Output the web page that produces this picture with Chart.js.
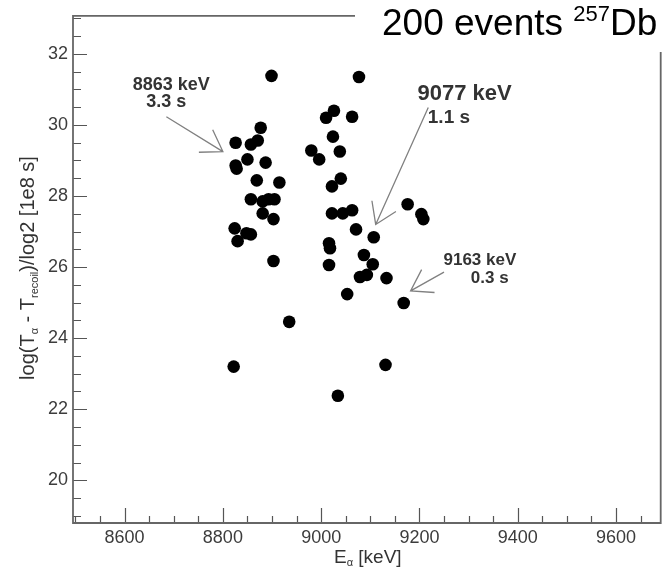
<!DOCTYPE html>
<html>
<head>
<meta charset="utf-8">
<script src="https://cdn.jsdelivr.net/npm/chart.js@4.4.0/dist/chart.umd.min.js"></script>
<style>
  html, body { margin: 0; padding: 0; background: #fff; }
</style>
</head>
<body>
<canvas id="chart" width="667" height="570"></canvas>
<script>
// alpha energy (keV) and log2 of decay time
const energies = [
  8899, 8877, 8826, 8857, 8871, 8850, 8887, 8826, 8828, 8869,
  8915, 8857, 8881, 8893, 8905, 8881, 8903, 8824, 8848, 8857,
  8830, 8903, 8935, 8822,
  8980, 8996, 9010, 9026, 9063, 9077, 9024, 9038, 9022, 9040,
  9022, 9044, 9063, 9071, 9107, 9016, 9018, 9016, 9087, 9105,
  9079, 9093, 9133, 9053, 9168, 9131, 9034, 9176, 9204, 9208
];
const logTimes = [
  31.38, 29.92, 29.50, 29.45, 29.56, 29.03, 28.94, 28.86, 28.77, 28.44,
  28.38, 27.91, 27.85, 27.91, 27.91, 27.51, 27.35, 27.09, 26.95, 26.92,
  26.73, 26.17, 24.46, 23.20,
  29.28, 29.03, 30.20, 30.40, 30.23, 31.35, 29.67, 29.25, 28.27, 28.49,
  27.51, 27.51, 27.60, 27.06, 26.84, 26.67, 26.53, 26.06, 26.34, 26.08,
  25.72, 25.78, 25.69, 25.24, 24.99, 23.25, 22.38, 27.77, 27.49, 27.35
];
const xTickLabels = [8600, 8800, 9000, 9200, 9400, 9600];
const yTickLabels = [20, 22, 24, 26, 28, 30, 32];
const xRange = [8495, 9691];
const yRange = [18.8, 33.07];

const noteTexts = [['8863 keV', '3.3 s'], ['9077 keV', '1.1 s'], ['9163 keV', '0.3 s']];

// where the notes sit, in data units
const noteSpots = [
  { t1: [8695, 30.99], t2: [8685, 30.51], from: [8685, 30.23], to: [8800, 29.25], f1: 18, f2: 18 },
  { t1: [9292, 30.71], t2: [9260, 30.04], from: [9218, 30.49], to: [9111, 27.20], f1: 22, f2: 19 },
  { t1: [9323, 26.06], t2: [9343, 25.55], from: [9250, 25.86], to: [9182, 25.33], f1: 17, f2: 17 }
];

const FONT = '"Liberation Sans", Arial, Helvetica, sans-serif';

const points = energies.map((e, i) => ({ x: e, y: logTimes[i] }));

function drawArrow(ctx, x0, y0, x1, y1) {
  const ang = Math.atan2(y1 - y0, x1 - x0);
  const len = 24, spread = 0.58;
  ctx.beginPath();
  ctx.moveTo(x0, y0);
  ctx.lineTo(x1, y1);
  ctx.moveTo(x1 - len * Math.cos(ang - spread), y1 - len * Math.sin(ang - spread));
  ctx.lineTo(x1, y1);
  ctx.lineTo(x1 - len * Math.cos(ang + spread), y1 - len * Math.sin(ang + spread));
  ctx.stroke();
}

// ROOT-like frame, inward ticks, axis titles, notes and the big title
const decor = {
  id: 'decor',
  beforeDatasetsDraw(chart) {
    const ctx = chart.ctx;
    const a = chart.chartArea;
    const xs = chart.scales.x, ys = chart.scales.y;
    ctx.save();
    ctx.strokeStyle = '#555';
    ctx.lineWidth = 1.2;
    ctx.beginPath();
    for (let v = 8500; v <= xRange[1]; v += 50) {
      const px = Math.round(xs.getPixelForValue(v)) + 0.5;
      const l = v % 200 === 0 ? 15 : 7;
      ctx.moveTo(px, a.bottom);
      ctx.lineTo(px, a.bottom - l);
    }
    for (let v = 19; v <= yRange[1]; v += 0.5) {
      const py = Math.round(ys.getPixelForValue(v)) + 0.5;
      const l = v % 2 === 0 ? 14 : 8;
      ctx.moveTo(a.left, py);
      ctx.lineTo(a.left + l, py);
    }
    ctx.stroke();

    // frame (top right corner is hidden behind the title)
    ctx.lineWidth = 1.8;
    ctx.strokeStyle = '#666';
    ctx.beginPath();
    ctx.moveTo(355, a.top);
    ctx.lineTo(a.left, a.top);
    ctx.lineTo(a.left, a.bottom);
    ctx.lineTo(a.right, a.bottom);
    ctx.lineTo(a.right, 52);
    ctx.stroke();
    ctx.restore();
  },
  afterDraw(chart) {
    const ctx = chart.ctx;
    const xs = chart.scales.x, ys = chart.scales.y;
    ctx.save();

    // notes
    ctx.strokeStyle = '#808080';
    ctx.lineWidth = 1.3;
    noteSpots.forEach((n, i) => {
      drawArrow(ctx, xs.getPixelForValue(n.from[0]), ys.getPixelForValue(n.from[1]),
        xs.getPixelForValue(n.to[0]), ys.getPixelForValue(n.to[1]));
      ctx.fillStyle = '#333';
      ctx.textAlign = 'center';
      ctx.textBaseline = 'alphabetic';
      ctx.font = 'bold ' + n.f1 + 'px ' + FONT;
      ctx.fillText(noteTexts[i][0], xs.getPixelForValue(n.t1[0]), ys.getPixelForValue(n.t1[1]));
      ctx.font = 'bold ' + n.f2 + 'px ' + FONT;
      ctx.fillText(noteTexts[i][1], xs.getPixelForValue(n.t2[0]), ys.getPixelForValue(n.t2[1]));
    });

    // title
    ctx.fillStyle = '#000';
    ctx.textAlign = 'left';
    ctx.font = '37px ' + FONT;
    let x = 382;
    ctx.fillText('200 events ', x, 35);
    x += ctx.measureText('200 events ').width;
    ctx.font = '22px ' + FONT;
    ctx.fillText('257', x, 21);
    x += ctx.measureText('257').width;
    ctx.font = '37px ' + FONT;
    ctx.fillText('Db', x, 35);

    // x axis title
    ctx.fillStyle = '#333';
    ctx.font = '19px ' + FONT;
    x = 334;
    ctx.fillText('E', x, 563);
    x += ctx.measureText('E').width;
    ctx.font = '11px ' + FONT;
    ctx.fillText('\u03b1', x, 566);
    x += ctx.measureText('\u03b1').width;
    ctx.font = '19px ' + FONT;
    ctx.fillText(' [keV]', x, 563);

    // y axis title, rotated
    const parts = [
      ['log(T', 20, 0], ['\u03b1', 11, 4], [' - T', 20, 0], ['recoil', 11, 4], [')/log2 [1e8 s]', 20, 0]
    ];
    let total = 0;
    parts.forEach(p => { ctx.font = p[1] + 'px ' + FONT; total += ctx.measureText(p[0]).width; });
    ctx.translate(34, 268);
    ctx.rotate(-Math.PI / 2);
    x = -total / 2;
    parts.forEach(p => {
      ctx.font = p[1] + 'px ' + FONT;
      ctx.fillText(p[0], x, p[2]);
      x += ctx.measureText(p[0]).width;
    });
    ctx.restore();
  }
};

new Chart(document.getElementById('chart'), {
  type: 'scatter',
  data: {
    datasets: [{
      data: points,
      backgroundColor: '#000',
      borderWidth: 0,
      pointRadius: 6.3,
      pointHoverRadius: 6.3
    }]
  },
  options: {
    responsive: false,
    animation: false,
    devicePixelRatio: 1,
    layout: { padding: { top: 14, right: 2, left: 0, bottom: 0 } },
    plugins: { legend: { display: false }, tooltip: { enabled: false } },
    scales: {
      x: {
        type: 'linear',
        min: xRange[0],
        max: xRange[1],
        grid: { display: false, drawTicks: false },
        border: { display: false },
        afterFit: s => { s.height = 47; },
        ticks: {
          stepSize: 50,
          autoSkip: false,
          maxRotation: 0,
          padding: 4,
          color: '#3c3c3c',
          font: { family: FONT, size: 18 },
          callback: v => xTickLabels.includes(v) ? String(v) : ''
        }
      },
      y: {
        type: 'linear',
        min: yRange[0],
        max: yRange[1],
        grid: { display: false, drawTicks: false },
        border: { display: false },
        afterFit: s => { s.width = 73; },
        ticks: {
          stepSize: 0.5,
          autoSkip: false,
          padding: 5,
          color: '#3c3c3c',
          font: { family: FONT, size: 18 },
          callback: v => yTickLabels.includes(v) ? String(v) : ''
        }
      }
    }
  },
  plugins: [decor]
});
</script>
</body>
</html>
